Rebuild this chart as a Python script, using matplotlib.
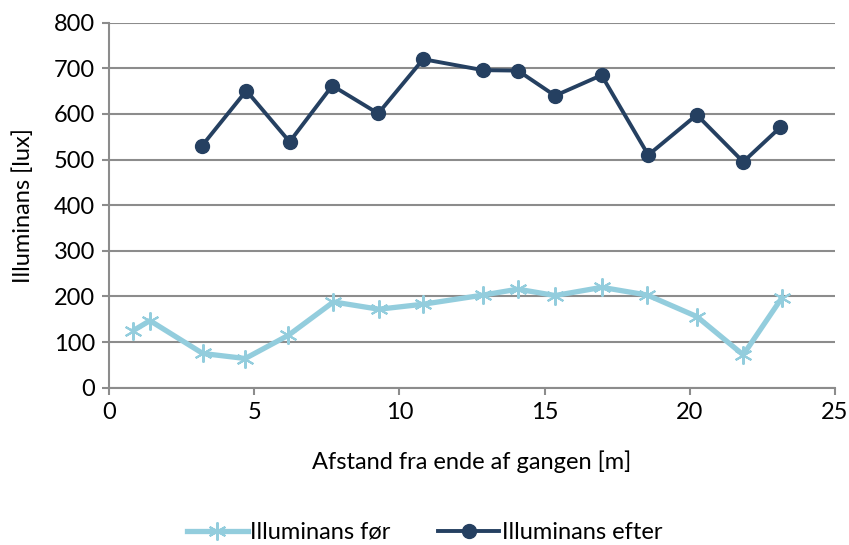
import matplotlib.pyplot as plt

# Illuminans før (light blue, asterisk markers)
x_foer = [0.83, 1.41, 3.23, 4.69, 6.18, 7.73, 9.29, 10.82, 12.88, 14.08, 15.36, 16.97, 18.54, 20.24, 21.84, 23.16]
lux_foer = [125, 147, 75, 64, 115, 188, 172, 183, 203, 216, 202, 220, 203, 156, 72, 196]

# Illuminans efter (dark blue, circle markers)
x_efter = [3.20, 4.73, 6.22, 7.69, 9.27, 10.82, 12.88, 14.08, 15.36, 16.96, 18.57, 20.24, 21.84, 23.12]
lux_efter = [530, 651, 539, 662, 601, 720, 696, 695, 640, 685, 510, 598, 495, 571]

plt.rcParams['font.family'] = ['Lato', 'DejaVu Sans']
fs = 17

fig = plt.figure(figsize=(8.49, 5.45), dpi=100)
ax = fig.add_axes([109 / 849, 1 - 387.7 / 545, (835 - 109) / 849, (387.7 - 22.7) / 545])

grid_col = '#8c8c8c'
ax.set_axisbelow(True)
ax.yaxis.grid(True, color=grid_col, linewidth=1.5)

ax.plot(x_foer, lux_foer, color='#93cddd', linewidth=3.8, marker=(6, 2, 0),
        markersize=13, markeredgewidth=1.5, label='Illuminans før')
ax.plot(x_efter, lux_efter, color='#254061', linewidth=2.8, marker='o',
        markersize=10, label='Illuminans efter')

ax.set_xlim(0, 25)
ax.set_ylim(0, 800)
ax.set_xticks(range(0, 26, 5))
ax.set_yticks(range(0, 801, 100))

for side in ['top', 'right']:
    ax.spines[side].set_visible(False)
for side in ['left', 'bottom']:
    ax.spines[side].set_color(grid_col)
    ax.spines[side].set_linewidth(1.5)
ax.tick_params(axis='both', colors=grid_col, width=1.5, length=5, labelsize=fs,
               labelcolor='black', pad=5)

ax.set_xlabel('Afstand fra ende af gangen [m]', fontsize=fs, labelpad=20)
ax.set_ylabel('Illuminans [lux]', fontsize=fs, labelpad=14)

fig.legend(loc='lower center', bbox_to_anchor=(0.5, -0.035), ncol=2, frameon=False,
           fontsize=fs, handlelength=2.6, columnspacing=2.0, handletextpad=0.1)

plt.savefig('out.png')
